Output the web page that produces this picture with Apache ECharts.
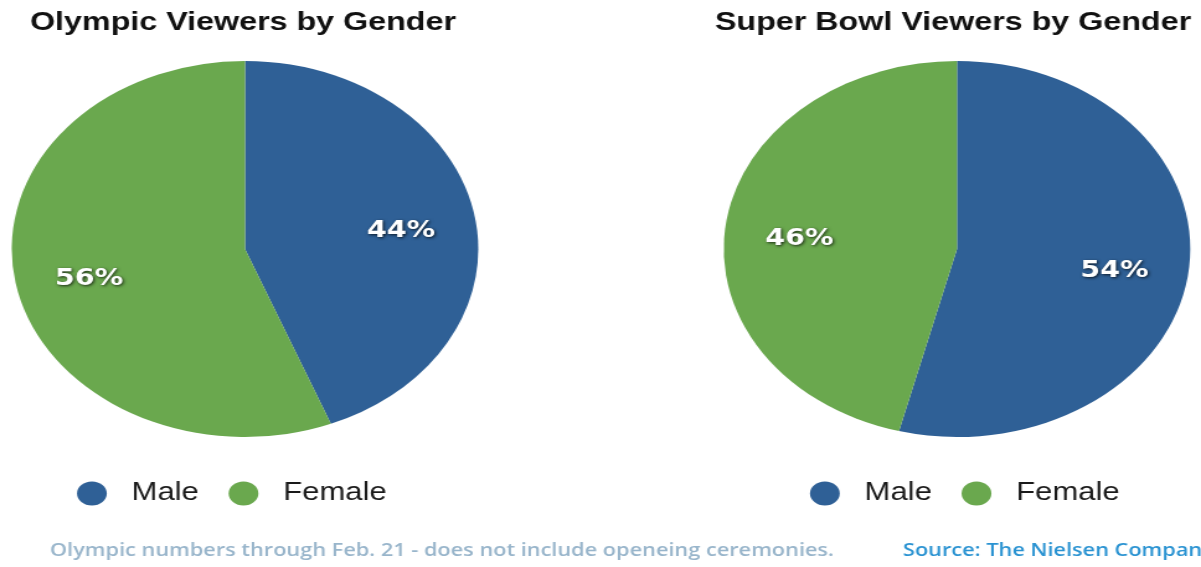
<!DOCTYPE html>
<html>
<head>
<meta charset="utf-8">
<script src="https://cdn.jsdelivr.net/npm/echarts@6/dist/echarts.min.js"></script>
<style>
  html, body { margin: 0; padding: 0; background: #ffffff; overflow: hidden; width: 1201px; height: 567px; }
  #chart { width: 968px; height: 567px; transform: scaleX(1.2407); transform-origin: 0 0; }
</style>
</head>
<body>
<div id="chart"></div>
<script>
const categories = ['Male', 'Female'];
const olympicValues = [44, 56];
const superBowlValues = [54, 46];
const chartTitles = ['Olympic Viewers by Gender', 'Super Bowl Viewers by Gender'];
const footnoteText = 'Olympic numbers through Feb. 21 - does not include openeing ceremonies.';
const sourceText = 'Source: The Nielsen Company';

const colors = ['#2f6096', '#6aa84e'];
const SX = 1201 / 968;
const R = 188;
const centers = [[245 / SX, 249], [957 / SX, 249]];

function makeData(values) {
  return categories.map((c, i) => ({ name: c, value: values[i], itemStyle: { color: colors[i] } }));
}

const labelStyle = {
  show: true,
  position: 'inside',
  formatter: '{c}%',
  color: '#ffffff',
  fontFamily: 'DejaVu Sans',
  fontWeight: 'bold',
  fontSize: 23,
  offset: [0, 6],
  textShadowColor: 'rgba(0,0,0,0.75)',
  textShadowBlur: 3,
  textShadowOffsetX: 1,
  textShadowOffsetY: 1
};

function pieSeries(values, center) {
  return [
    {
      type: 'pie',
      center: center,
      radius: [0, R],
      startAngle: 90,
      clockwise: true,
      silent: true,
      animation: false,
      label: { show: false },
      labelLine: { show: false },
      itemStyle: { borderWidth: 0 },
      data: makeData(values)
    },
    {
      type: 'pie',
      center: center,
      radius: [62, R],
      startAngle: 90,
      clockwise: true,
      silent: true,
      animation: false,
      label: labelStyle,
      labelLine: { show: false },
      itemStyle: { color: 'rgba(0,0,0,0)', borderWidth: 0 },
      data: categories.map((c, i) => ({ name: c, value: values[i], itemStyle: { color: 'rgba(0,0,0,0)' } }))
    }
  ];
}

const legendIcon = 'path://M50,0A50,50,0,1,1,50,100A50,50,0,1,1,50,0Z';
function legend(left) {
  return {
    left: left,
    top: 481,
    padding: 0,
    orient: 'horizontal',
    itemWidth: 24,
    itemHeight: 25,
    itemGap: 24,
    selectedMode: false,
    textStyle: { fontFamily: 'Liberation Sans', fontSize: 25, color: '#1a1a1a', padding: [0, 0, 0, 15] },
    data: categories.map((c, i) => ({ name: c, icon: legendIcon, itemStyle: { color: colors[i] } }))
  };
}

const chart = echarts.init(document.getElementById('chart'), null, { renderer: 'canvas' });
chart.setOption({
  backgroundColor: '#ffffff',
  animation: false,
  legend: [legend(77 / SX), legend(810 / SX)],
  graphic: [
    { type: 'text', x: 243 / SX, y: 23, style: { text: chartTitles[0], fontFamily: 'Liberation Sans', fontWeight: 'bold', fontSize: 26, fill: '#111111', align: 'center', verticalAlign: 'middle' } },
    { type: 'text', x: 953 / SX, y: 23, style: { text: chartTitles[1], fontFamily: 'Liberation Sans', fontWeight: 'bold', fontSize: 26, fill: '#111111', align: 'center', verticalAlign: 'middle' } },
    { type: 'text', x: 50 / SX, y: 551, style: { text: footnoteText, fontFamily: 'Open Sans', fontWeight: 600, fontSize: 17.5, fill: '#98b5cb', align: 'left', verticalAlign: 'middle' } },
    { type: 'text', x: 903 / SX, y: 551, style: { text: sourceText, fontFamily: 'Open Sans', fontWeight: 600, fontSize: 17.5, fill: '#2a93d2', align: 'left', verticalAlign: 'middle' } }
  ],
  series: [].concat(pieSeries(olympicValues, centers[0]), pieSeries(superBowlValues, centers[1]))
});
</script>
</body>
</html>
